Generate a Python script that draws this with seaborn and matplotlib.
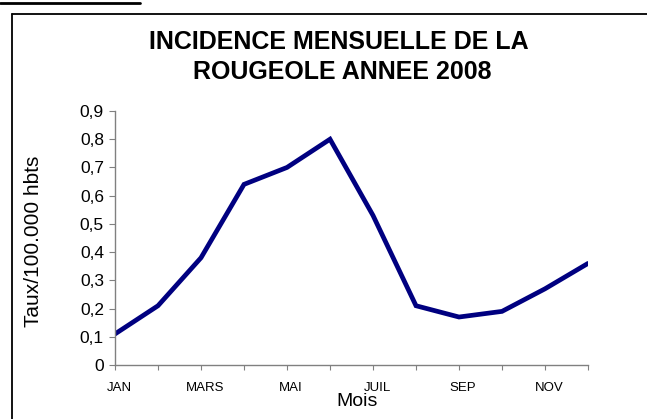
import matplotlib
matplotlib.use("Agg")
import matplotlib.pyplot as plt
import matplotlib.transforms as mtransforms
import seaborn as sns
import pandas as pd
from matplotlib.lines import Line2D
from matplotlib.ticker import FuncFormatter

months = ['JAN', 'FEV', 'MARS', 'AVR', 'MAI', 'JUIN', 'JUIL', 'AOUT', 'SEP', 'OCT', 'NOV', 'DEC']
taux = [0.11, 0.21, 0.38, 0.64, 0.70, 0.80, 0.53, 0.21, 0.17, 0.19, 0.27, 0.36]
shown_labels = ['JAN', 'MARS', 'MAI', 'JUIL', 'SEP', 'NOV']
y_ticks = [0, 0.1, 0.2, 0.3, 0.4, 0.5, 0.6, 0.7, 0.8, 0.9]

sns.set_theme(style="white")
plt.rcParams['font.family'] = ['Liberation Sans', 'DejaVu Sans']
plt.rcParams['text.color'] = 'black'
plt.rcParams['axes.labelcolor'] = 'black'

df = pd.DataFrame({'idx': range(len(months)), 'mois': months, 'taux': taux})

W, H = 647, 419
fig = plt.figure(figsize=(W / 100, H / 100), dpi=100)
ax = fig.add_axes([115 / W, 1 - 365 / H, (588 - 115) / W, (365 - 111) / H])

sns.lineplot(data=df, x='idx', y='taux', ax=ax, color='#000080', linewidth=3.4,
             solid_capstyle='round', solid_joinstyle='miter')

ax.set_xlim(0, 11)
ax.set_ylim(0, 0.9)
ax.set_xticks(list(range(len(months))))
ax.set_xticklabels([m if m in shown_labels else '' for m in months], fontsize=9.5)
ax.set_yticks(y_ticks)
ax.yaxis.set_major_formatter(FuncFormatter(lambda v, p: ('%g' % round(v, 1)).replace('.', ',')))
ax.tick_params(axis='y', labelsize=12.5, length=4, width=0.8, color='#808080',
               labelcolor='black', left=True, pad=4)
ax.tick_params(axis='x', length=3.5, width=0.8, color='#808080', labelcolor='black',
               bottom=True, pad=9)
offset = mtransforms.ScaledTranslation(4 / 100, 0, fig.dpi_scale_trans)
for lab in ax.get_xticklabels():
    lab.set_transform(lab.get_transform() + offset)

ax.set_xlabel('')
ax.set_ylabel('')
for s in ['top', 'right']:
    ax.spines[s].set_visible(False)
for s in ['left', 'bottom']:
    ax.spines[s].set_color('#808080')
    ax.spines[s].set_linewidth(1.0)

fig.text(357 / W, 1 - 406 / H, 'Mois', fontsize=14, ha='center', va='baseline')
fig.text(33.5 / W, 1 - 241 / H, 'Taux/100.000 hbts', fontsize=15, rotation=90, ha='center', va='center')
fig.text(339 / W, 1 - 49 / H, 'INCIDENCE MENSUELLE DE LA', fontsize=18,
         fontweight='bold', ha='center', va='baseline')
fig.text(342 / W, 1 - 79 / H, 'ROUGEOLE ANNEE 2008', fontsize=18,
         fontweight='bold', ha='center', va='baseline')

# frame
fig.add_artist(Line2D([12 / W, 12 / W], [0, 1 - 14 / H], color='black', linewidth=1.3, transform=fig.transFigure))
fig.add_artist(Line2D([12 / W, 1], [1 - 14 / H, 1 - 14 / H], color='black', linewidth=1.3, transform=fig.transFigure))
fig.add_artist(Line2D([0, 140 / W], [1 - 3.5 / H, 1 - 3.5 / H], color='black', linewidth=2.0, transform=fig.transFigure))

fig.savefig('out.png', dpi=100)
